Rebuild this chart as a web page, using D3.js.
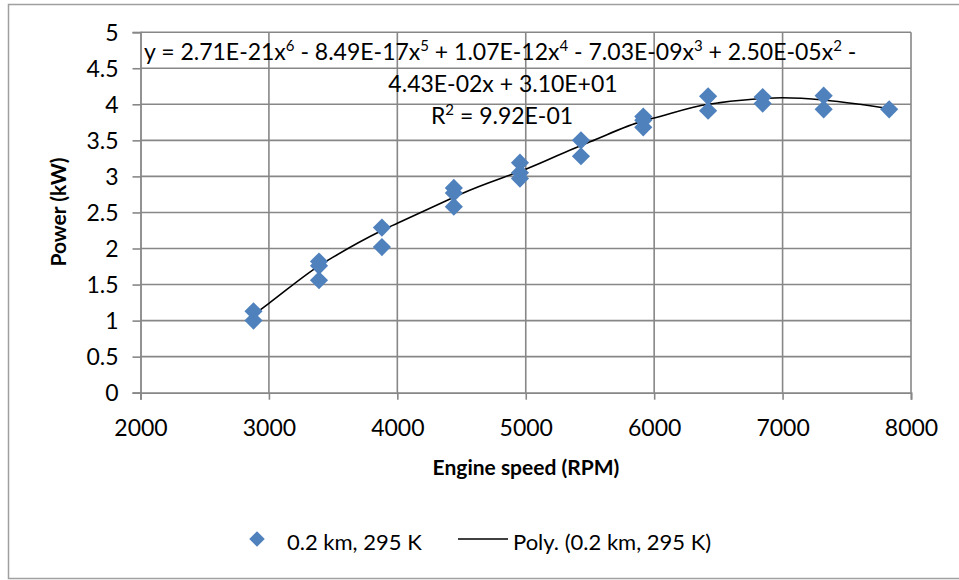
<!DOCTYPE html>
<html><head><meta charset="utf-8">
<script src="https://cdn.jsdelivr.net/npm/d3@7"></script>
<style>
html,body{margin:0;padding:0;background:#fff;}
svg text{font-family:Lato,"Open Sans",sans-serif;fill:#000;}
</style></head>
<body><svg id="c" width="959" height="580"></svg>
<script>
const speed = [2880,2880, 3390,3390,3390, 3880,3880, 4440,4440,4440, 4955,4955,4955, 5430,5430, 5915,5915,5915, 6420,6420, 6845,6845, 7320,7320, 7830];
const power = [1.13,1.00, 1.82,1.76,1.56, 2.29,2.02, 2.84,2.77,2.58, 3.19,3.05,2.97, 3.50,3.28, 3.83,3.78,3.68, 4.11,3.91, 4.10,4.01, 4.12,3.93, 3.93];
const trendSpeed = [2880,3000,3390,3500,3880,4000,4440,4500,4955,5000,5430,5500,5915,6000,6420,6500,6845,7000,7320,7600,7830];
const trendPower = [1.08,1.24,1.76,1.88,2.25,2.35,2.71,2.76,3.07,3.10,3.43,3.48,3.77,3.81,4.00,4.02,4.08,4.09,4.06,4.00,3.94];
const xTicks = [2000,3000,4000,5000,6000,7000,8000];
const yTicks = [0,0.5,1,1.5,2,2.5,3,3.5,4,4.5,5];
const seriesName = "0.2 km, 295 K";
const trendName = "Poly. (0.2 km, 295 K)";
const xTitle = "Engine speed (RPM)";
const yTitle = "Power (kW)";

const svg = d3.select("#c");
const x = d3.scaleLinear().domain([2000,8000]).range([140.5,911]);
const y = d3.scaleLinear().domain([0,5]).range([392.7,32.2]);
const grid = "#878787";

// outer border
svg.append("rect").attr("x",8.5).attr("y",4.5).attr("width",960).attr("height",574)
  .attr("fill","none").attr("stroke","#a0a0a0").attr("stroke-width",1.5);

// gridlines
svg.append("g").selectAll("line").data(yTicks.filter(d=>d>0)).join("line")
  .attr("x1",x(2000)).attr("x2",x(8000)).attr("y1",d=>y(d)).attr("y2",d=>y(d))
  .attr("stroke",grid).attr("stroke-width",1.6);
svg.append("g").selectAll("line").data(xTicks.filter(d=>d>2000)).join("line")
  .attr("x1",d=>x(d)).attr("x2",d=>x(d)).attr("y1",y(0)).attr("y2",y(5))
  .attr("stroke",grid).attr("stroke-width",1.6);

// axes
const xAxis = d3.axisBottom(x).tickValues(xTicks).tickSize(7).tickPadding(20).tickFormat(d3.format("d"));
const yAxis = d3.axisLeft(y).tickValues(yTicks).tickSize(8).tickPadding(14).tickFormat(d=>String(d));
const gx = svg.append("g").attr("transform",`translate(0,${y(0)})`).call(xAxis);
const gy = svg.append("g").attr("transform",`translate(${x(2000)},0)`).call(yAxis);
[gx,gy].forEach(g=>{
  g.select(".domain").attr("stroke",grid).attr("stroke-width",1.8);
  g.selectAll(".tick line").attr("stroke",grid).attr("stroke-width",1.6);
  g.selectAll(".tick text").attr("font-family","Lato").attr("font-size",23).attr("fill","#000");
});
gy.selectAll(".tick text").attr("dy","0.36em");

// axis titles
svg.append("text").attr("x",526).attr("y",475).attr("text-anchor","middle")
  .attr("font-size",21).attr("font-weight","bold").text(xTitle);
svg.append("text").attr("transform","translate(66,212) rotate(-90)").attr("text-anchor","middle")
  .attr("font-size",21).attr("font-weight","bold").text(yTitle);

// trendline
const line = d3.line().x((d,i)=>x(trendSpeed[i])).y((d,i)=>y(trendPower[i])).curve(d3.curveMonotoneX);
svg.append("path").attr("d",line(trendSpeed)).attr("fill","none").attr("stroke","#000").attr("stroke-width",1.6);

// points
const diamond = d3.symbol().type(d3.symbolSquare).size(165);
svg.append("g").selectAll("path").data(speed).join("path")
  .attr("d",diamond())
  .attr("transform",(d,i)=>`translate(${x(d)},${y(power[i])}) rotate(45)`)
  .attr("fill","#4f81bd");

// equation
const eq = svg.append("g").attr("font-size",23);
const l1 = eq.append("text").attr("x",144).attr("y",60);
const parts1 = [["y = 2.71E-21x",""],["6","s"],[" - 8.49E-17x",""],["5","s"],[" + 1.07E-12x",""],["4","s"],[" - 7.03E-09x",""],["3","s"],[" + 2.50E-05x",""],["2","s"],[" -",""]];
parts1.forEach(([t,s])=>{
  const ts = l1.append("tspan").text(t);
  if(s){ ts.attr("font-size",15).attr("baseline-shift","60%"); }
});
eq.append("text").attr("x",503).attr("y",92).attr("text-anchor","middle").text("4.43E-02x + 3.10E+01");
const l3 = eq.append("text").attr("x",502).attr("y",124).attr("text-anchor","middle");
l3.append("tspan").text("R");
l3.append("tspan").attr("font-size",15).attr("baseline-shift","60%").text("2");
l3.append("tspan").text(" = 9.92E-01");

// legend
svg.append("path").attr("d",d3.symbol().type(d3.symbolSquare).size(120)())
  .attr("transform","translate(257,539) rotate(45)").attr("fill","#4f81bd");
svg.append("text").attr("x",287).attr("y",550).attr("font-size",22).text(seriesName);
svg.append("line").attr("x1",458).attr("x2",508).attr("y1",539).attr("y2",539).attr("stroke","#000").attr("stroke-width",1.6);
svg.append("text").attr("x",513).attr("y",550).attr("font-size",22).text(trendName);
</script></body></html>
